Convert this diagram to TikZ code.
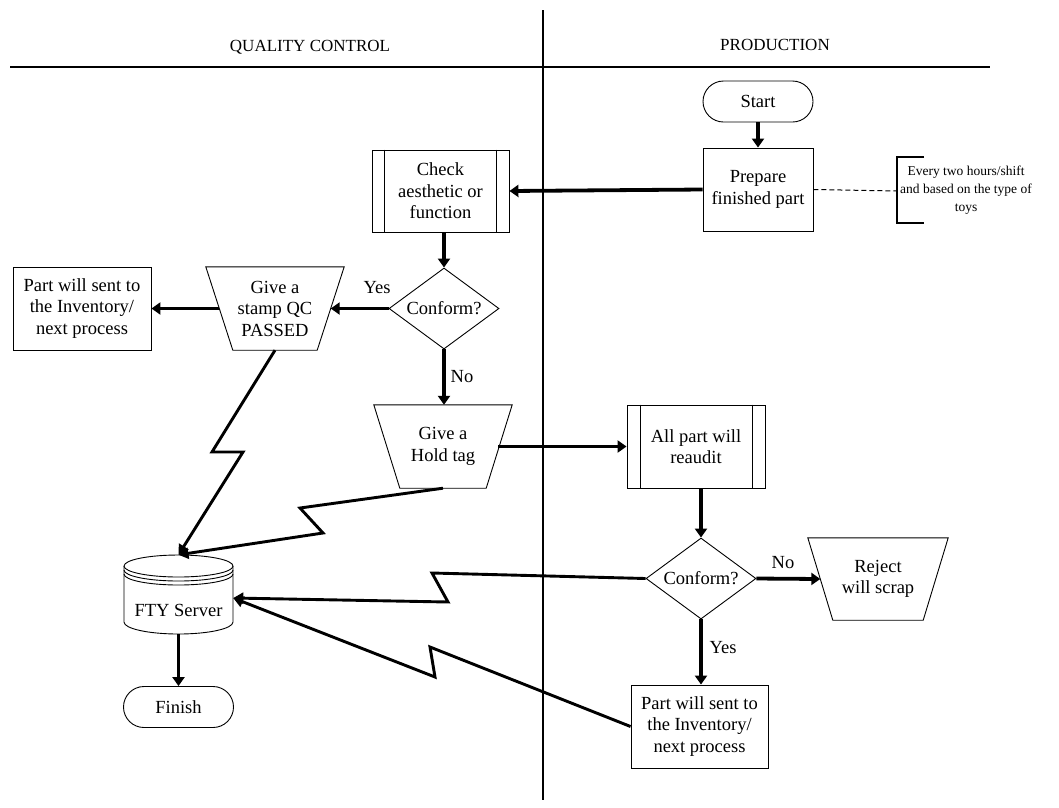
\documentclass[tikz,border=0pt]{standalone}
\usepackage{fontspec}
\setmainfont{Liberation Serif}
\usetikzlibrary{arrows.meta,shapes.geometric,shapes.misc}

\newcommand\mainsize{\fontsize{18.5}{21.5}\selectfont}
\newcommand\notesize{\fontsize{13.5}{18}\selectfont}
\newcommand\headsize{\fontsize{17}{20}\selectfont}

\begin{document}
\begin{tikzpicture}[x=1pt,y=-1pt,
  shapeline/.style={line width=0.9pt},
  box/.style={draw, shapeline, align=center, inner sep=0pt, font=\mainsize},
  plain/.style={align=center, inner sep=0pt, font=\mainsize},
  term/.style={draw, shapeline, rounded rectangle, inner sep=0pt, font=\mainsize,
    minimum width=110pt, minimum height=41pt},
  decision/.style={draw, shapeline, diamond, aspect=1.36, inner sep=0pt, font=\mainsize,
    minimum width=110pt, minimum height=81pt},
  flow/.style={line width=3.8pt, -{Triangle[length=9pt,width=12pt]}},
  bolt/.style={line width=2.9pt, line join=miter, -{Triangle[length=10pt,width=11pt]}},
  lbl/.style={font=\mainsize, inner sep=0pt},
  lane/.style={line width=2.8pt},
]
\useasboundingbox (0,0) rectangle (1059,807);

% swimlane dividers and headings
\draw[lane] (10,67) -- (990,67);
\draw[lane] (543,10) -- (543,800);
\node[font=\headsize] (qc) at (310,47) {QUALITY CONTROL};
\node[font=\headsize] (prod) at (775,45) {PRODUCTION};

% ---------- production lane, top ----------
\node[term] (start) at (758,101.5) {Start};
\node[box, minimum width=110pt, minimum height=83pt] (prep) at (758,189.5) {Prepare\\finished part};

% annotation with bracket
\node[align=center, inner sep=0pt, font=\notesize] (note) at (966,190) {Every two hours/shift\\and based on the type of\\toys};
\coordinate (brk) at (897,191);
\draw[line width=1.6pt] (924,157) -- (897,157) -- (897,223) -- (924,223);
\draw[line width=1pt, dash pattern=on 5pt off 3pt] (prep.east) -- (brk);

% ---------- quality control lane ----------
\node[box, minimum width=137pt, minimum height=82pt] (check) at (440.5,191) {Check\\aesthetic or\\function};
\draw[shapeline] ([xshift=13pt]check.north west) -- ([xshift=13pt]check.south west);
\draw[shapeline] ([xshift=-13pt]check.north east) -- ([xshift=-13pt]check.south east);

\node[decision] (d1) at (444,308.5) {Conform?};

\node[plain, minimum width=138pt, minimum height=83pt] (stamp) at (275,308.5) {Give a\\stamp QC\\PASSED};
\draw[shapeline] (stamp.north west) -- (stamp.north east) -- ([xshift=-27pt]stamp.south east)
  -- ([xshift=27pt]stamp.south west) -- cycle;

\node[box, minimum width=138pt, minimum height=83pt] (inv1) at (82,308.5) {Part will sent to\\the Inventory/\\next process};

\node[plain, minimum width=138pt, minimum height=83pt] (hold) at (443,446.5) {Give a\\Hold tag};
\draw[shapeline] (hold.north west) -- (hold.north east) -- ([xshift=-26pt]hold.south east)
  -- ([xshift=26pt]hold.south west) -- cycle;

% database cylinder
\node[inner sep=0pt, minimum width=109pt, minimum height=79pt] (fty) at (178.5,594.5) {};
\draw[shapeline] (124,566) -- (124,622) arc[start angle=180, end angle=360, x radius=54.5pt, y radius=12pt] -- (233,566);
\draw[shapeline] (178.5,566) ellipse[x radius=54.5pt, y radius=11pt];
\draw[shapeline] (124,570) arc[start angle=180, end angle=360, x radius=54.5pt, y radius=11pt];
\draw[shapeline] (124,574) arc[start angle=180, end angle=360, x radius=54.5pt, y radius=11pt];
\node[lbl] (ftytext) at (178.5,610) {FTY Server};

\node[term] (finish) at (178.5,707) {Finish};

% ---------- production lane, bottom ----------
\node[box, minimum width=138pt, minimum height=83pt] (audit) at (696,446.5) {All part will\\reaudit};
\draw[shapeline] ([xshift=14pt]audit.north west) -- ([xshift=14pt]audit.south west);
\draw[shapeline] ([xshift=-13pt]audit.north east) -- ([xshift=-13pt]audit.south east);

\node[decision] (d2) at (701,578.5) {Conform?};

\node[plain, minimum width=140pt, minimum height=82pt] (reject) at (878,579) {Reject\\will scrap};
\draw[shapeline] (reject.north west) -- (reject.north east) -- ([xshift=-25pt]reject.south east)
  -- ([xshift=25pt]reject.south west) -- cycle;

\node[box, minimum width=137pt, minimum height=83pt] (inv2) at (699.5,726.5) {Part will sent to\\the Inventory/\\next process};

% ---------- flow arrows ----------
\draw[flow] (start.south) -- (prep.north);
\draw[flow] (prep.west) -- (check.east);
\draw[flow] (d1.north |- check.south) -- (d1.north);
\draw[flow] (d1.west) -- ([xshift=-13.5pt]stamp.east);
\draw[flow] ([xshift=13.5pt]stamp.west) -- (inv1.east);
\draw[flow] (d1.south) -- (d1.south |- hold.north);
\draw[flow] ([xshift=-14pt]hold.east) -- (audit.west);
\draw[flow] (d2.north |- audit.south) -- (d2.north);
\draw[flow] (d2.east) -- ([xshift=12.5pt]reject.west);
\draw[flow] (d2.south) -- (d2.south |- inv2.north);
\draw[flow] (finish.north |- fty.south) -- (finish.north);

\node[lbl] (yes1) at (377,288) {Yes};
\node[lbl] (no1) at (462,377) {No};
\node[lbl] (no2) at (783,563) {No};
\node[lbl] (yes2) at (723,648) {Yes};

% ---------- communication links ----------
\draw[bolt] (stamp.south) -- (212,452) -- (243,452) -- (fty.north);
\draw[bolt] (hold.south) -- (300,508) -- (323,533) -- (fty.north);
\draw[bolt] (d2.west) -- (432,573) -- (448,602) -- ([yshift=-3.5pt]fty.east);
\draw[bolt] (inv2.west) -- (430,647) -- (435,677) -- ([yshift=-3.5pt]fty.east);
\end{tikzpicture}
\end{document}
